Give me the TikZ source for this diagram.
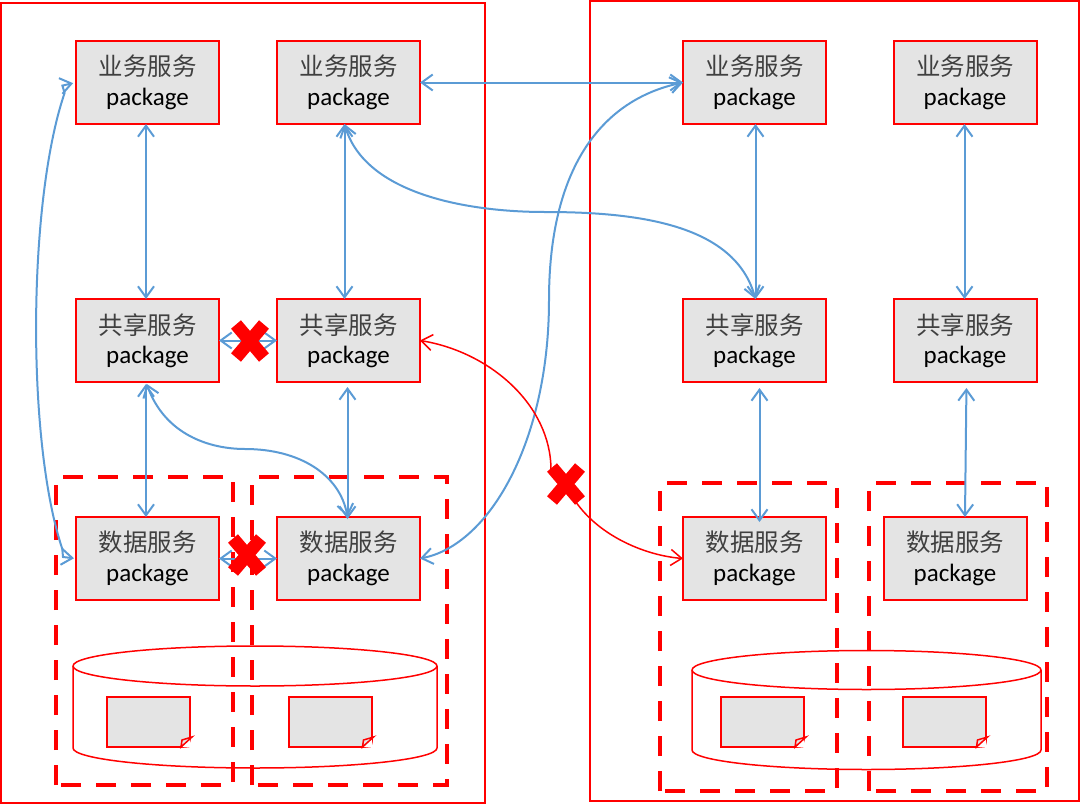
\documentclass[tikz,border=0pt]{standalone}
\usepackage{fontspec}
\usepackage{xcolor}
\usepackage{tikz}
\usetikzlibrary{shapes,arrows.meta,positioning,calc}
\setmainfont{Carlito}
\newfontfamily\cjk{Noto Sans CJK SC}
\definecolor{linkblue}{HTML}{5B9BD5}
\definecolor{boxgray}{HTML}{E4E4E4}
\definecolor{cjkgray}{HTML}{404040}
\newcommand{\svctext}[1]{{\cjk\fontsize{24.5}{30}\selectfont\color{cjkgray}#1}\\[9pt]{\fontsize{25}{28}\selectfont package}}

\begin{document}
\begin{tikzpicture}[
  x=1pt, y=-1pt,
  svcbox/.style={rectangle, draw=red, fill=boxgray, line width=2pt, minimum width=143pt, minimum height=83pt, inner sep=0pt, outer sep=0pt, align=center},
  docbox/.style={rectangle, draw=red, fill=boxgray, line width=2pt, minimum width=83pt, minimum height=50pt, inner sep=0pt, outer sep=0pt},
  zone/.style={draw=red, line width=2pt},
  tenant/.style={draw=red, line width=4.5pt, dash pattern=on 20pt off 15pt},
  store/.style={draw=red, line width=1.5pt},
  link/.style={{Straight Barb[length=11pt,width=16pt]}-{Straight Barb[length=11pt,width=16pt]}, draw=linkblue, line width=2pt},
  blocked/.style={cross out, draw=red, line width=13pt, minimum width=28pt, minimum height=33pt, inner sep=0pt, outer sep=0pt}
]
  \useasboundingbox (0,0) rectangle (1080,806);
  % outer frames
  \draw[zone] (1,3) rectangle (485,803);
  \draw[zone] (590,1) rectangle (1079,801);
  % service boxes
  \node[svcbox] (a1) at (147.5,82.5) {\svctext{业务服务}};
  \node[svcbox, right=58pt of a1] (a2) {\svctext{业务服务}};
  \node[svcbox, right=263pt of a2] (a3) {\svctext{业务服务}};
  \node[svcbox, right=67.5pt of a3] (a4) {\svctext{业务服务}};
  \node[svcbox, below=175pt of a1] (b1) {\svctext{共享服务}};
  \node[svcbox, below=175pt of a2] (b2) {\svctext{共享服务}};
  \node[svcbox, below=175pt of a3] (b3) {\svctext{共享服务}};
  \node[svcbox, below=175pt of a4] (b4) {\svctext{共享服务}};
  \node[svcbox, below=135pt of b1] (c1) {\svctext{数据服务}};
  \node[svcbox, below=135pt of b2] (c2) {\svctext{数据服务}};
  \node[svcbox, below=135pt of b3] (c3) {\svctext{数据服务}};
  \node[svcbox, below=135pt of b4, xshift=-10pt] (c4) {\svctext{数据服务}};
  % databases
  \draw[store] (73,666) arc[start angle=180, end angle=-180, x radius=182, y radius=-20];
  \draw[store] (73,666) -- (73,748) arc[start angle=180, end angle=360, x radius=182, y radius=-20] -- (437,666);
  \draw[store] (692,670) arc[start angle=180, end angle=-180, x radius=174.5, y radius=-19.5];
  \draw[store] (692,670) -- (692,750) arc[start angle=180, end angle=360, x radius=174.5, y radius=-19.5] -- (1041,670);
  % documents
  \node[docbox] (d1) at (148.5,722) {};
  \node[docbox] (d2) at (330,722) {};
  \node[docbox] (d3) at (762.5,722) {};
  \node[docbox] (d4) at (944,722) {};
  \fill[white] ([xshift=-8pt]d1.south east) -- ([yshift=8pt]d1.south east) -- ([xshift=2pt,yshift=-1pt]d1.south east) -- cycle;
  \fill[white] ([xshift=-8pt]d2.south east) -- ([yshift=8pt]d2.south east) -- ([xshift=2pt,yshift=-1pt]d2.south east) -- cycle;
  \fill[white] ([xshift=-8pt]d3.south east) -- ([yshift=8pt]d3.south east) -- ([xshift=2pt,yshift=-1pt]d3.south east) -- cycle;
  \fill[white] ([xshift=-8pt]d4.south east) -- ([yshift=8pt]d4.south east) -- ([xshift=2pt,yshift=-1pt]d4.south east) -- cycle;
  \draw[store] ([xshift=-9pt]d1.south east) -- ([xshift=2pt,yshift=10pt]d1.south east) -- ([xshift=-8pt,yshift=7pt]d1.south east) -- cycle;
  \draw[store] ([xshift=-9pt]d2.south east) -- ([xshift=2pt,yshift=10pt]d2.south east) -- ([xshift=-8pt,yshift=7pt]d2.south east) -- cycle;
  \draw[store] ([xshift=-9pt]d3.south east) -- ([xshift=2pt,yshift=10pt]d3.south east) -- ([xshift=-8pt,yshift=7pt]d3.south east) -- cycle;
  \draw[store] ([xshift=-9pt]d4.south east) -- ([xshift=2pt,yshift=10pt]d4.south east) -- ([xshift=-8pt,yshift=7pt]d4.south east) -- cycle;
  % tenant boxes
  \draw[tenant] (56,785) -- (56,477) -- (233,477) -- (233,785) -- cycle;
  \draw[tenant] (252,785) -- (252,477) -- (447,477) -- (447,785) -- cycle;
  \draw[tenant] (660,791) -- (660,483) -- (837,483) -- (837,791) -- cycle;
  \draw[tenant] (869,791) -- (869,483) -- (1047,483) -- (1047,791) -- cycle;
  % straight links
  \draw[link] ([xshift=-1.5pt]a1.south) -- ([xshift=-1.5pt]b1.north);
  \draw[link] ([xshift=-4pt]a2.south) -- ([xshift=-4pt]b2.north);
  \draw[link] ([xshift=1pt]a3.south) -- ([xshift=1pt]b3.north);
  \draw[link] ([xshift=-0.5pt]a4.south) -- ([xshift=-0.5pt]b4.north);
  \draw[link, shorten <=2pt] ([xshift=-1.5pt]b1.south) -- ([xshift=-1.5pt]c1.north);
  \draw[link, shorten <=5pt, shorten >=-2pt] ([xshift=-1pt]b2.south) -- ([xshift=-1pt]c2.north);
  \draw[link, shorten <=6pt, shorten >=-5pt] ([xshift=5pt]b3.south) -- ([xshift=5pt]c3.north);
  \draw[link, shorten <=6pt] ([xshift=1.5pt]b4.south) -- (b4.south |- c4.north);
  \draw[link] (a2.east) -- (a3.west);
  \draw[link] (b1.east) -- (b2.west);
  \draw[link] (c1.east) -- (c2.west);
  % curved links
  \draw[link, shorten >=2pt, shorten <=3pt] (a1.west) -- (62.4,85.6) -- (64.6,93) .. controls (28,200) and (26,440) .. (62.3,549) -- (63,557) -- (c1.west);
  \draw[link] ([xshift=-4pt]a2.south) .. controls (365,195) and (470,212) .. (545,212) .. controls (640,212) and (735,225) .. ([xshift=1pt]b3.north);
  \draw[link, shorten <=2pt] ([xshift=-1.5pt]b1.south) .. controls (165,435) and (210,449) .. (245,449) .. controls (300,449) and (340,475) .. ([xshift=-1pt]c2.north);
  \draw[link] (c2.east) .. controls (490,545) and (549,440) .. (549,300) .. controls (549,170) and (600,100) .. (a3.west);
  % blocked marks
  \node[blocked] (x1) at (250,341) {};
  \node[blocked] (x2) at (247,555) {};
  \node[blocked] (x3) at (566,484) {};
  \draw[red, line width=1.5pt, {Straight Barb[length=11pt,width=16pt]}-] (b2.east) .. controls (490,352) and (551,405) .. (551,470) -- (x3.center);
  \draw[red, line width=1.5pt, -{Straight Barb[length=11pt,width=16pt]}] (x3.center) .. controls (585,530) and (640,555) .. (c3.west);
\end{tikzpicture}
\end{document}
